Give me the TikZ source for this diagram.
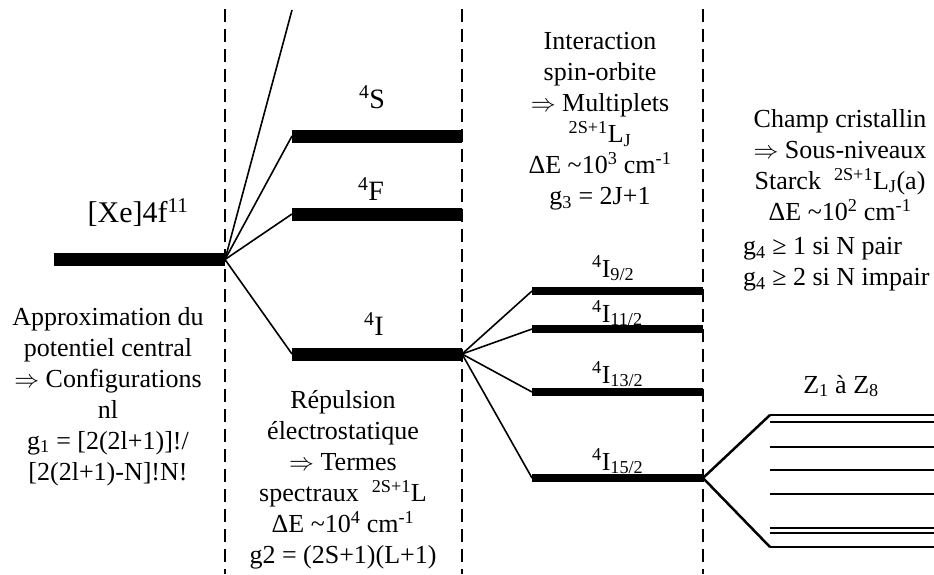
\documentclass[tikz,border=0pt]{standalone}
\usepackage{fontspec}
\setmainfont{Liberation Serif}

\tikzset{
  lvlbar/.style={line width=13pt},
  subbar/.style={line width=8pt},
  starkline/.style={line width=2.5pt},
  link/.style={line width=1.6pt},
  sep/.style={dash pattern=on 13pt off 7pt, line width=1.6pt},
  txt/.style={align=center, inner sep=0pt, anchor=north, font=\fontsize{26}{31}\selectfont},
  lbl/.style={inner sep=0pt, anchor=base, font=\fontsize{26}{31}\selectfont}
}

\begin{document}
\begin{tikzpicture}[x=1pt, y=-1pt]
\useasboundingbox (0,0) rectangle (934,574);

% Column separators
\coordinate (s1t) at (225,9);
\coordinate (s1b) at (225,574);
\coordinate (s2t) at (462,9);
\coordinate (s2b) at (462,574);
\coordinate (s3t) at (703,9);
\coordinate (s3b) at (703,574);
\draw[sep] (s1t) -- (s1b);
\draw[sep] (s2t) -- (s2b);
\draw[sep] (s3t) -- (s3b);

% Configuration
\coordinate (confL) at (54,259.5);
\coordinate (confR) at (225,259.5);
\coordinate (up) at (292,10);

% Spectral terms
\coordinate (SL) at (292,136);
\coordinate (SR) at (462,136);
\coordinate (FL) at (292,214);
\coordinate (FR) at (462,214);
\coordinate (IL) at (292,354);
\coordinate (IR) at (462,354);

% Multiplets
\coordinate (Ia) at (532,291);
\coordinate (Iar) at (703,291);
\coordinate (Ib) at (532,329);
\coordinate (Ibr) at (703,329);
\coordinate (Ic) at (532,392);
\coordinate (Icr) at (703,392);
\coordinate (Id) at (532,478);
\coordinate (Idr) at (703,478);

% Draw the levels
\draw[lvlbar] (confL) -- (confR);
\draw[lvlbar] (SL) -- (SR);
\draw[lvlbar] (FL) -- (FR);
\draw[lvlbar] (IL) -- (IR);
\draw[subbar] (Ia) -- (Iar);
\draw[subbar] (Ib) -- (Ibr);
\draw[subbar] (Ic) -- (Icr);
\draw[subbar] (Id) -- (Idr);

% Splittings
\draw[link] (confR) -- (up);
\draw[link] (confR) -- (SL);
\draw[link] (confR) -- (FL);
\draw[link] (confR) -- (IL);
\draw[link] (IR) -- (Ia);
\draw[link] (IR) -- (Ib);
\draw[link] (IR) -- (Ic);
\draw[link] (IR) -- (Id);

% Stark sub-levels
\coordinate (Zt) at (770,415);
\coordinate (Zb) at (770,547);
\draw[starkline] (Zt) -- (Idr) -- (Zb);
\foreach \y in {415,422,447,470,494,528,533,547}
  \draw[starkline] (770,\y) -- (934,\y);

% Labels
\node[lbl, font=\fontsize{30}{34}\selectfont] (conf) at (138,222) {[Xe]4f\textsuperscript{11}};
\node[lbl, font=\fontsize{28}{31}\selectfont] (tS) at (372,108) {\textsuperscript{4}S};
\node[lbl, font=\fontsize{28}{31}\selectfont] (tF) at (371,200) {\textsuperscript{4}F};
\node[lbl, font=\fontsize{28}{31}\selectfont] (tI) at (374,335) {\textsuperscript{4}I};
\node[lbl, anchor=base west] (mA) at (592,277) {\textsuperscript{4}I\textsubscript{9/2}};
\node[lbl, anchor=base west] (mB) at (592,322) {\textsuperscript{4}I\textsubscript{11/2}};
\node[lbl, anchor=base west] (mC) at (592,383) {\textsuperscript{4}I\textsubscript{13/2}};
\node[lbl, anchor=base west] (mD) at (592,470) {\textsuperscript{4}I\textsubscript{15/2}};
\node[lbl] (zz) at (841,393) {Z\textsubscript{1} à Z\textsubscript{8}};

% Texts
\node[txt] (col1) at (108,307) {Approximation du\\potentiel central\\$\Rightarrow$ Configurations\\nl\\g\textsubscript{1} = [2(2l+1)]!/\\{}[2(2l+1)-N]!N!};
\node[txt] (col2) at (343,390) {Répulsion\\électrostatique\\$\Rightarrow$ Termes\\spectraux \ \textsuperscript{2S+1}L\\ΔE \textasciitilde10\textsuperscript{4} cm\textsuperscript{-1}\\g2 = (2S+1)(L+1)};
\node[txt] (col3) at (600,32) {Interaction\\spin-orbite\\$\Rightarrow$ Multiplets\\\textsuperscript{2S+1}L\textsubscript{J}\\ΔE \textasciitilde10\textsuperscript{3} cm\textsuperscript{-1}\\g\textsubscript{3} = 2J+1};
\node[txt] (col4) at (840,109) {Champ cristallin\\$\Rightarrow$ Sous-niveaux\\Starck \ \textsuperscript{2S+1}L\textsubscript{J}(a)\\ΔE \textasciitilde10\textsuperscript{2} cm\textsuperscript{-1}};
\node[txt, align=left, anchor=north west] (col4g) at (743,237) {g\textsubscript{4} ≥ 1 si N pair\\g\textsubscript{4} ≥ 2 si N impair};

\end{tikzpicture}
\end{document}
